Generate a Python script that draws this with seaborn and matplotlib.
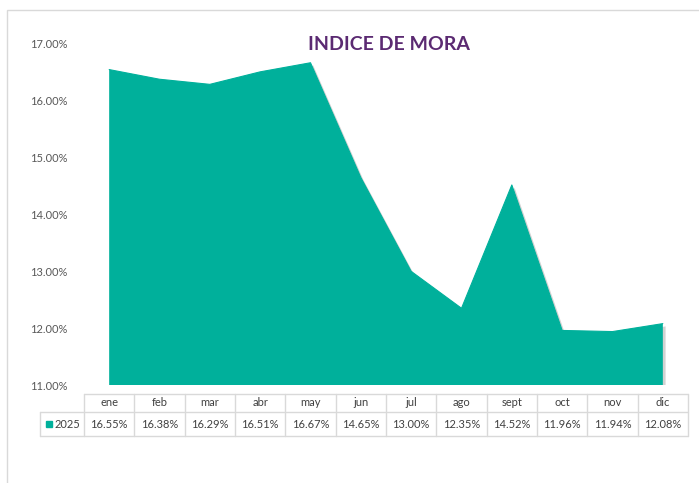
import numpy as np
import pandas as pd
import matplotlib.pyplot as plt
import matplotlib.patheffects as pe
from matplotlib.patches import Rectangle
import seaborn as sns

# data
meses = ['ene', 'feb', 'mar', 'abr', 'may', 'jun', 'jul', 'ago', 'sept', 'oct', 'nov', 'dic']
mora_2025 = [16.55, 16.38, 16.29, 16.51, 16.67, 14.65, 13.00, 12.35, 14.52, 11.96, 11.94, 12.08]
serie = '2025'
y_ticks = [11, 12, 13, 14, 15, 16, 17]

teal = '#00B09B'
gris = '#595959'
linea = '#D9D9D9'

df = pd.DataFrame({'mes': np.arange(len(meses)), 'mora': mora_2025})

sns.set_style('white')
plt.rcParams['font.family'] = ['Lato', 'DejaVu Sans']

W, H = 699, 483
fig = plt.figure(figsize=(W / 100, H / 100), dpi=100)

# plot area in pixel terms: x 84..688, y 44..385
ax = fig.add_axes([84 / W, 1 - 385 / H, 604 / W, 341 / H])

sns.lineplot(data=df, x='mes', y='mora', ax=ax, color=teal, linewidth=0.8)
fill = ax.fill_between(df['mes'], df['mora'], y_ticks[0], color=teal, lw=0)
fill.set_path_effects([pe.withSimplePatchShadow(offset=(2, -2), shadow_rgbFace='#808080', alpha=0.35)])

ax.set_xlim(-0.5, len(meses) - 0.5)
ax.set_ylim(y_ticks[0], y_ticks[-1])
ax.set_yticks(y_ticks)
ax.set_yticklabels([f'{v:.2f}%' for v in y_ticks])
ax.set_xticks([])
ax.set_xlabel('')
ax.set_ylabel('')
ax.tick_params(axis='y', length=0, pad=12, labelsize=8, labelcolor=gris)
for s in ax.spines.values():
    s.set_visible(False)

# title
fig.text(389 / W, 1 - 44 / H, 'INDICE DE MORA', ha='center', va='center',
         fontsize=14, fontweight='bold', color='#5B2A72')

# data table under the plot (x in data units, y in axes units)
tr = ax.get_xaxis_transform()
y_top = (385 - 394) / 341
y_mid = (385 - 412) / 341
y_bot = (385 - 436) / 341
x_left = -0.5 + (40 - 84) / (604 / 12)
x0, x1 = -0.5, len(meses) - 0.5
kw = dict(transform=tr, color=linea, lw=1, clip_on=False)
ax.plot([x0, x1], [y_top, y_top], **kw)
ax.plot([x_left, x1], [y_mid, y_mid], **kw)
ax.plot([x_left, x1], [y_bot, y_bot], **kw)
ax.plot([x_left, x_left], [y_mid, y_bot], **kw)
for i in range(len(meses) + 1):
    ax.plot([i - 0.5, i - 0.5], [y_top, y_bot], **kw)

for i, (m, v) in enumerate(zip(meses, mora_2025)):
    ax.text(i, (y_top + y_mid) / 2, m, transform=tr, ha='center', va='center',
            fontsize=8, color='#404040')
    ax.text(i, (y_mid + y_bot) / 2, f'{v:.2f}%', transform=tr, ha='center', va='center',
            fontsize=8, color='#404040')

ax.plot([x_left + 0.18], [(y_mid + y_bot) / 2], marker='s', markersize=5, color=teal,
        transform=tr, clip_on=False, linestyle='none')
ax.text(-0.5 - 0.08, (y_mid + y_bot) / 2, serie, transform=tr, ha='right', va='center',
        fontsize=8, color='#404040')

# chart frame (Excel chart area border)
fig.add_artist(Rectangle((7 / W, -0.1), 1.2, 1 - 10 / H + 0.1, transform=fig.transFigure,
                         fill=False, edgecolor=linea, lw=1))

fig.savefig('out.png', dpi=100)
